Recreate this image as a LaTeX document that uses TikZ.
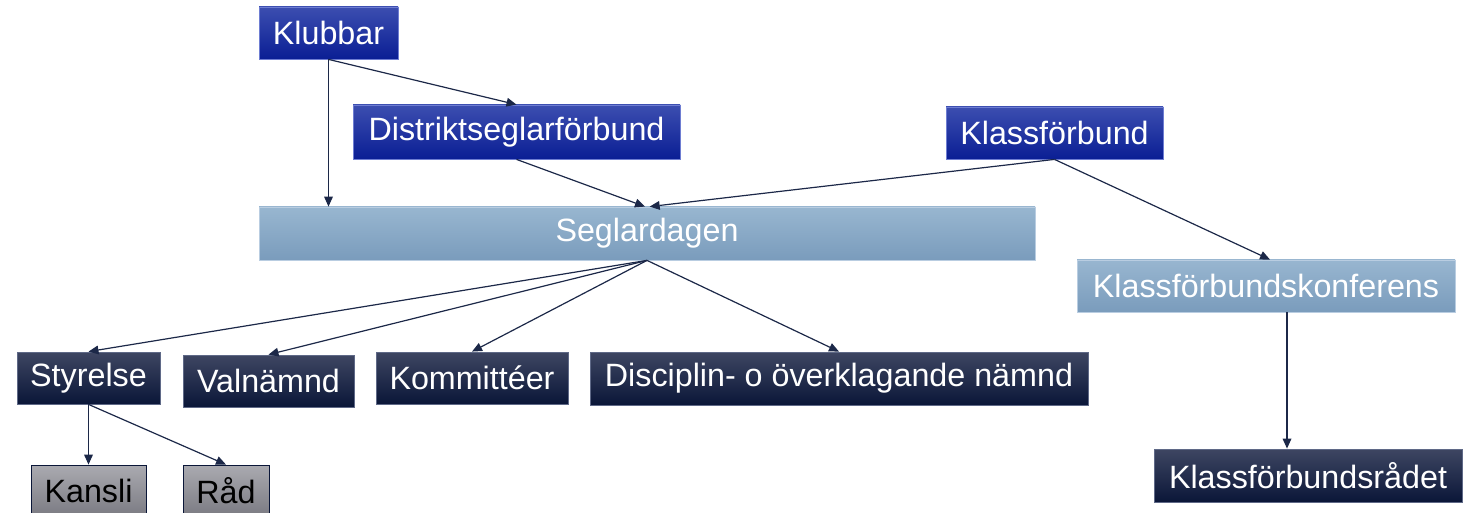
\documentclass[tikz,border=0pt]{standalone}
\usepackage{fontspec}
\setmainfont{Liberation Sans}
\usetikzlibrary{arrows.meta,calc}

\definecolor{arrowcol}{RGB}{28,40,72}
\definecolor{bluetop}{RGB}{60,78,176}
\definecolor{bluebot}{RGB}{10,30,148}
\definecolor{blueline}{RGB}{110,125,210}
\definecolor{lighttop}{RGB}{152,182,208}
\definecolor{lightbot}{RGB}{122,156,188}
\definecolor{lightline}{RGB}{185,205,225}
\definecolor{navytop}{RGB}{62,70,98}
\definecolor{navybot}{RGB}{10,22,56}
\definecolor{navyline}{RGB}{95,105,135}
\definecolor{greytop}{RGB}{170,170,176}
\definecolor{greybot}{RGB}{122,122,130}

\tikzset{every picture/.style={line width=0.75pt}}
\tikzset{
  orgbox/.style={inner sep=0pt, minimum height=39pt, text=white,
    font=\fontsize{24.2}{29}\selectfont, line width=0.6pt},
  bluebox/.style={orgbox, draw=blueline, top color=bluetop, bottom color=bluebot},
  lightbox/.style={orgbox, draw=lightline, top color=lighttop, bottom color=lightbot},
  navybox/.style={orgbox, draw=navyline, top color=navytop, bottom color=navybot},
  greybox/.style={orgbox, draw=navybot, top color=greytop, bottom color=greybot, text=black},
  link/.style={draw=arrowcol, line width=0.9pt, -{Triangle[length=7.5pt,width=6.5pt]}}
}

\begin{document}
\begin{tikzpicture}[x=0.75pt,y=0.75pt,yscale=-1,xscale=1]
\useasboundingbox (0,0) rectangle (1473,513);

% Top row
\node [bluebox, minimum width=104.25pt] (Klubbar) at (328.5,33) {Klubbar};
\node [bluebox, minimum width=245.25pt, minimum height=40.5pt] (Distrikt) at (516.5,132) {Distriktseglarförbund};
\node [bluebox, minimum width=162.75pt] (Klassforbund) at (1054.5,133) {Klassförbund};

% Middle row
\node [lightbox, minimum width=582pt, minimum height=39.75pt] (Seglardagen) at (647,233.5) {Seglardagen};
\node [lightbox, minimum width=283.5pt] (Konferens) at (1266,286) {Klassförbundskonferens};

% Bottom row
\node [navybox, minimum width=107.25pt] (Styrelse) at (88.5,378) {Styrelse};
\node [navybox, minimum width=128.25pt] (Valnamnd) at (268.5,381) {Valnämnd};
\node [navybox, minimum width=144pt] (Kommitteer) at (472,378) {Kommittéer};
\node [navybox, minimum width=373.5pt, minimum height=39.75pt] (Disciplin) at (839,378.5) {Disciplin- o överklagande nämnd};
\node [navybox, minimum width=231pt, minimum height=39.75pt] (Radet) at (1308,475.5) {Klassförbundsrådet};

% Under Styrelse
\node [greybox, minimum width=86.25pt] (Kansli) at (88.5,491) {Kansli};
\node [greybox, minimum width=64.5pt] (Rad) at (226,491) {Råd};

% Connectors
\draw [link] (Klubbar.south) -- (Klubbar.south |- Seglardagen.north);
\draw [link] (Klubbar.south) -- (Distrikt.north);
\draw [link] (Distrikt.south) -- ([xshift=-1.5pt]Seglardagen.north);
\draw [link] (Klassforbund.south) -- ([xshift=2pt]Seglardagen.north);
\draw [link] (Klassforbund.south) -- ([xshift=3pt]Konferens.north);
\foreach \n in {Styrelse,Valnamnd,Kommitteer,Disciplin}
  \draw [link] (Seglardagen.south) -- (\n.north);
\draw [link] (Styrelse.south) -- (Kansli.north);
\draw [link] (Styrelse.south) -- (Rad.north);
\coordinate (kr) at ($(Konferens.south)!.5!(Radet.north)$);
\draw [link] (kr |- Konferens.south) -- (kr |- Radet.north);

\end{tikzpicture}
\end{document}
